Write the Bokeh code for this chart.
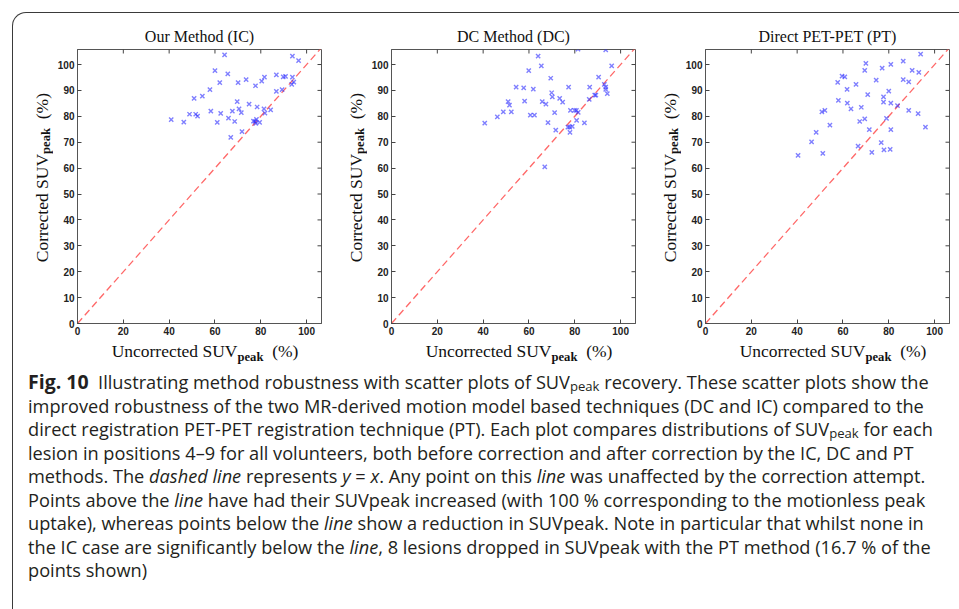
import math
from bokeh.plotting import figure
from bokeh.models import Div, FixedTicker
from bokeh.layouts import column, row
from bokeh.embed import file_html
from bokeh.resources import INLINE

# ---------------- data ----------------
titles = ["Our Method (IC)", "DC Method (DC)", "Direct PET-PET (PT)"]
x_label_main, y_label_main, label_sub, label_unit = "Uncorrected SUV", "Corrected SUV", "peak", "(%)"

ic_x = [40.9, 46.4, 48.9, 51.6, 52.4, 50.9, 54.5, 57.8, 58.2, 60.0, 61.0, 62.1, 62.5, 64.2, 65.6, 65.9,
        66.9, 67.6, 68.6, 69.7, 70.1, 70.5, 71.5, 71.8, 73.6, 74.9, 77.7, 76.8, 77.5, 78.1, 78.4, 79.5,
        80.4, 81.6, 81.4, 81.8, 84.3, 86.8, 86.8, 89.3, 89.8, 90.8, 93.5, 93.8, 93.8, 94.4, 96.5, 77.8]
ic_y = [78.7, 77.8, 80.8, 80.8, 80.1, 86.9, 87.8, 90.3, 82.0, 97.6, 77.7, 93.0, 81.1, 103.7, 96.4, 79.3,
        71.9, 82.0, 78.0, 85.7, 93.0, 82.9, 81.4, 74.1, 94.2, 84.7, 91.8, 78.1, 78.0, 78.8, 83.6, 77.7,
        93.6, 95.1, 82.9, 81.2, 82.5, 89.6, 96.0, 90.3, 95.2, 95.4, 92.3, 95.1, 103.2, 93.2, 101.5, 77.3]

dc_x = [40.7, 46.2, 48.8, 50.9, 51.5, 52.3, 54.4, 57.7, 58.1, 59.9, 60.6, 61.9, 62.4, 64.0, 65.4, 65.8,
        66.9, 67.4, 68.3, 69.5, 69.9, 70.2, 71.2, 71.7, 73.4, 74.7, 77.3, 77.0, 78.1, 77.8, 77.9, 78.9,
        79.9, 80.7, 80.8, 81.4, 81.5, 84.2, 86.3, 86.5, 88.7, 89.2, 90.4, 92.9, 93.5, 93.5, 94.2, 93.5, 96.1]
dc_y = [77.4, 79.8, 81.7, 85.7, 84.3, 81.7, 91.3, 91.0, 85.9, 97.6, 80.5, 90.5, 80.5, 103.2, 99.5, 85.7,
        60.5, 84.7, 77.6, 94.7, 89.1, 87.5, 81.4, 74.7, 86.9, 85.5, 91.3, 75.8, 82.3, 75.8, 73.8, 76.1,
        82.3, 82.3, 78.4, 105.9, 81.5, 77.5, 86.5, 91.3, 88.2, 88.2, 95.1, 92.3, 91.3, 90.4, 88.8, 105.7, 99.5]

pt_x = [40.4, 46.3, 48.3, 50.8, 51.2, 52.1, 54.3, 57.7, 58.0, 59.6, 60.8, 61.8, 61.9, 63.5, 65.7, 66.6,
        67.3, 68.0, 69.5, 69.5, 70.0, 70.8, 71.5, 72.6, 74.5, 76.7, 77.1, 77.7, 77.7, 77.9, 79.0, 80.0,
        80.6, 80.9, 80.9, 80.9, 83.8, 86.3, 86.3, 88.7, 88.7, 90.2, 92.8, 93.1, 93.9, 96.0]
pt_y = [64.9, 70.1, 73.8, 81.7, 65.7, 82.3, 76.6, 93.1, 86.2, 95.5, 95.2, 90.4, 85.1, 82.9, 92.3, 68.5,
        78.0, 83.5, 79.0, 97.7, 100.4, 88.4, 74.9, 66.1, 94.0, 69.8, 98.6, 87.5, 85.5, 67.0, 79.2, 89.7,
        67.2, 100.1, 85.1, 74.9, 84.1, 101.3, 94.2, 82.3, 93.3, 97.7, 81.0, 97.0, 104.0, 75.8]

x_ticks = [0, 20, 40, 60, 80, 100]
y_ticks = [0, 10, 20, 30, 40, 50, 60, 70, 80, 90, 100]
x_max = 106.5
y_max = 105.8
identity = [0, x_max]   # the y = x reference line

series = [(ic_x, ic_y), (dc_x, dc_y), (pt_x, pt_y)]

SERIF = "Liberation Serif"
TICKFONT = "Liberation Sans"
FRAME = "#555555"


def style_axis(ax, ticks):
    ax.ticker = FixedTicker(ticks=ticks)
    ax.major_tick_in = 4
    ax.major_tick_out = 0
    ax.minor_tick_line_color = None
    ax.axis_line_color = FRAME
    ax.major_tick_line_color = "#444444"
    ax.major_label_text_font = TICKFONT
    ax.major_label_text_font_style = "bold"
    ax.major_label_text_font_size = "10px"
    ax.major_label_text_color = "#222222"
    ax.major_label_standoff = 3
    ax.axis_label = None


def make_panel(title, xs, ys):
    p = figure(width=274, height=326, x_range=(0, x_max), y_range=(0, y_max),
               output_backend="svg", toolbar_location=None, title=title,
               min_border_left=24, min_border_right=6, min_border_top=36, min_border_bottom=16)
    p.title.text_font = SERIF
    p.title.text_font_size = "16px"
    p.title.text_font_style = "normal"
    p.title.align = "center"
    p.title.text_color = "#111111"
    p.grid.visible = False
    p.outline_line_color = FRAME
    p.border_fill_color = None

    style_axis(p.xaxis[0], x_ticks)
    style_axis(p.yaxis[0], y_ticks)

    # inward tick marks on the top and right edges of the box (half of each dash is clipped)
    p.scatter(x_ticks, [y_max] * len(x_ticks), marker="dash", size=8, angle=math.pi / 2,
              line_color="#444444", line_width=1)
    p.scatter([x_max] * len(y_ticks), y_ticks, marker="dash", size=8,
              line_color="#444444", line_width=1)

    p.line(identity, identity, line_color="#ff4d4d", line_alpha=0.85, line_width=1.3,
           line_dash="7 4")
    p.scatter(xs, ys, marker="x", size=6, line_color="#2b2bff", line_alpha=0.6, line_width=1.4)
    return p


SUB_AX = '<sub style="font-size:72%;font-weight:bold;line-height:0;vertical-align:-0.3em">' + label_sub + '</sub>'


def make_unit(title, xs, ys):
    p = make_panel(title, xs, ys)
    xlab = Div(text='<div style="display:block;width:274px;box-sizing:border-box;'
                    'font-family:\'Liberation Serif\';font-size:17.5px;color:#111111;'
                    'text-align:center;white-space:nowrap;padding:0 0 0 30px;">'
                    + x_label_main + SUB_AX + '&nbsp;&nbsp;' + label_unit + '</div>',
               width=274, height=26, margin=0)
    ylab = Div(text='<div style="height:330px;width:40px;display:flex;align-items:center;'
                    'padding-left:17px;box-sizing:border-box;">'
                    '<div style="writing-mode:vertical-rl;transform:rotate(180deg);white-space:nowrap;'
                    'font-family:\'Liberation Serif\';font-size:17.5px;color:#111111;">'
                    + y_label_main + SUB_AX + '&nbsp;&nbsp;' + label_unit + '</div></div>',
               width=40, height=352, margin=0)
    return row(ylab, column(p, xlab, spacing=0), spacing=0)


units = [make_unit(t, xs, ys) for t, (xs, ys) in zip(titles, series)]

SUB = '<sub style="font-size:72%;line-height:0;vertical-align:-0.12em">peak</sub>'
caption_lines = [
    '<b style="font-size:19.5px">Fig. 10</b>&nbsp; Illustrating method robustness with scatter plots of SUV' + SUB + ' recovery. These scatter plots show the',
    'improved robustness of the two MR-derived motion model based techniques (DC and IC) compared to the',
    'direct registration PET-PET registration technique (PT). Each plot compares distributions of SUV' + SUB + ' for each',
    'lesion in positions 4–9 for all volunteers, both before correction and after correction by the IC, DC and PT',
    'methods. The <i>dashed line</i> represents <i>y</i> = <i>x</i>. Any point on this <i>line</i> was unaffected by the correction attempt.',
    'Points above the <i>line</i> have had their SUVpeak increased (with 100 % corresponding to the motionless peak',
    'uptake), whereas points below the <i>line</i> show a reduction in SUVpeak. Note in particular that whilst none in',
    'the IC case are significantly below the <i>line</i>, 8 lesions dropped in SUVpeak with the PT method (16.7 % of the',
    'points shown)',
]
caption = Div(
    text='<div style="font-family:\'Open Sans\';font-size:18.2px;line-height:23.5px;color:#231f20;'
         'white-space:nowrap;padding:5px 0 0 15px;">' + '<br>'.join(caption_lines) + '</div>',
    width=942, height=230, margin=0)

layout = column(row(*units, spacing=0), caption, margin=(12, 0, 0, 12), spacing=0,
                styles={"border-top": "1.5px solid #3a3a3a", "border-left": "1.5px solid #3a3a3a",
                        "border-top-left-radius": "14px", "width": "947px", "height": "597px"})

open("out.html", "w").write(file_html(layout, INLINE))
